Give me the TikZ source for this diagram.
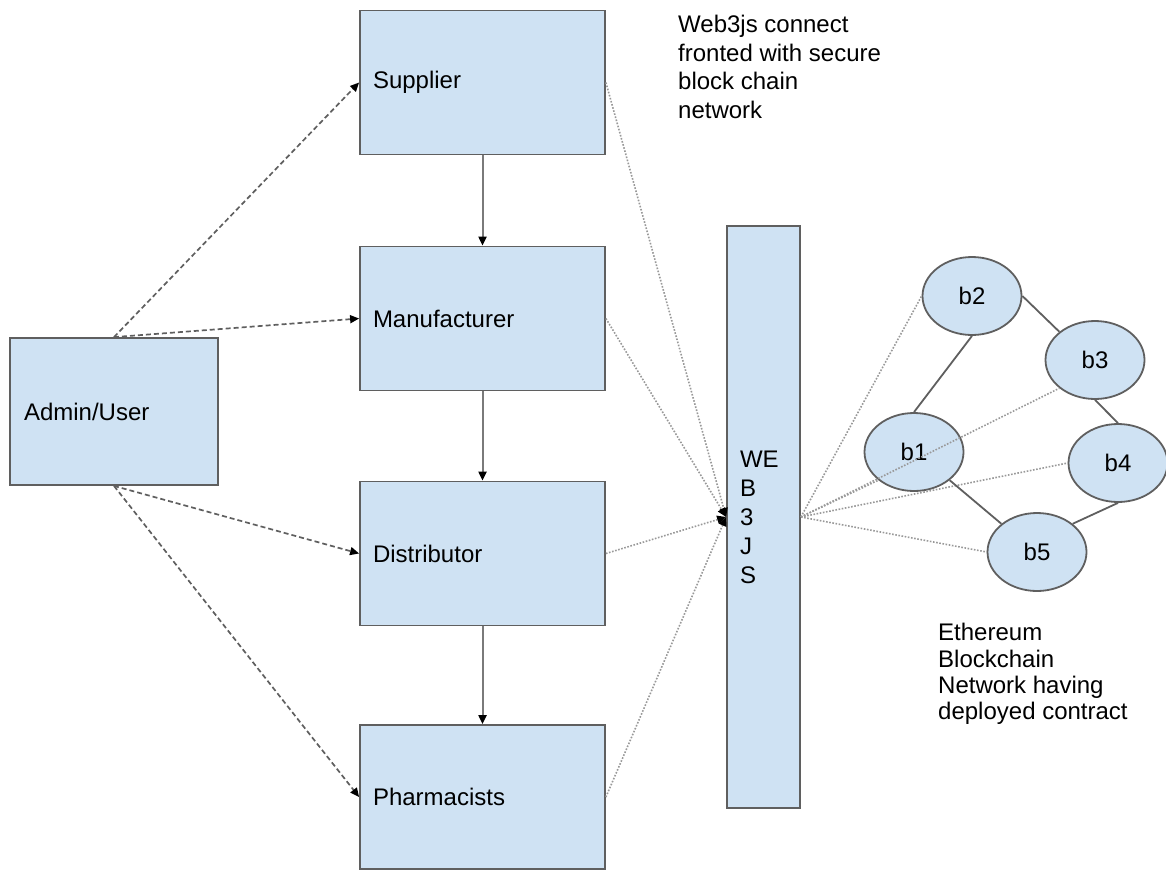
\documentclass[tikz,border=0pt]{standalone}
\usepackage{fontspec}
\setmainfont{Liberation Sans}
\usepackage{xcolor}
\usetikzlibrary{positioning,arrows.meta,shapes.geometric}

\definecolor{boxfill}{HTML}{CFE2F3}
\definecolor{boxline}{HTML}{5F5F5F}
\definecolor{flowgray}{HTML}{7A7A7A}
\definecolor{dotgray}{HTML}{999999}

\tikzset{
  stage/.style={draw=boxline, line width=1.8pt, fill=boxfill, minimum width=245pt,
    minimum height=144pt, text width=219pt, inner xsep=13pt, align=left,
    font=\fontsize{24}{29}\selectfont},
  peer/.style={ellipse, draw=boxline, line width=1.8pt, fill=boxfill, minimum width=99pt,
    minimum height=78pt, inner sep=0pt, font=\fontsize{24}{29}\selectfont},
  note/.style={inner sep=0pt, align=left, anchor=north west},
  tip/.style={-{Triangle[length=9pt,width=8pt,color=black]}},
  flow/.style={tip, draw=flowgray, line width=2pt},
  admlink/.style={tip, draw=boxline, line width=1.7pt, dash pattern=on 5pt off 3pt},
  weblink/.style={draw=dotgray, line width=1.6pt, dash pattern=on 1.6pt off 1.6pt},
  chainlink/.style={draw=boxline, line width=1.8pt}
}

\begin{document}
\begin{tikzpicture}[x=1pt,y=-1pt]
\useasboundingbox (0,0) rectangle (1166,870);

% Stages of the supply chain
\node[stage] (sup) at (482.5,82.5) {Supplier};
\node[stage] (man) at (482.5,318.5) {Manufacturer};
\node[stage] (dist) at (482.5,553.5) {Distributor};
\node[stage] (pharm) at (482.5,797) {Pharmacists};

% Admin
\node[stage, minimum width=208pt, minimum height=147pt, text width=180pt, inner xsep=14pt] (admin) at (114,411.5) {Admin/User};

% Web3js column
\node[stage, minimum width=73pt, minimum height=582pt, text width=47pt, inner xsep=13pt] (web) at (763.5,517) {WE\\B\\3\\J\\S};

% Blockchain peers
\node[peer] (b2) at (972,296) {b2};
\node[peer] (b3) at (1095,360) {b3};
\node[peer] (b1) at (914,452) {b1};
\node[peer] (b4) at (1118,463) {b4};
\node[peer] (b5) at (1037,552) {b5};

% Notes
\node[note, font=\fontsize{24}{28.7}\selectfont] (webnote) at (678,15) {Web3js connect\\fronted with secure\\block chain\\network};
\node[note, font=\fontsize{24}{26.4}\selectfont] (chainnote) at (938,623) {Ethereum\\Blockchain\\Network having\\deployed contract};

% Flow between stages
\draw[flow] (sup) -- (man);
\draw[flow] (man) -- (dist);
\draw[flow] (dist) -- (pharm);

% Admin to stages
\draw[admlink] (admin.north) -- (sup.west);
\draw[admlink] (admin.north) -- (man.west);
\draw[admlink] (admin.south) -- (dist.west);
\draw[admlink] (admin.south) -- (pharm.west);

% Stages to web3js
\draw[weblink, tip] (sup.east) -- (web.west);
\draw[weblink, tip] (man.east) -- (web.west);
\draw[weblink, tip] (dist.east) -- (web.west);
\draw[weblink, tip] (pharm.east) -- (web.west);

% Web3js to peers
\draw[weblink] (web.east) -- (b2.west);
\draw[weblink] (web.east) -- (b1.south west);
\draw[weblink] (web.east) -- (b3.south west);
\draw[weblink] (web.east) -- (b4.west);
\draw[weblink] (web.east) -- (b5.west);

% Peer links
\draw[chainlink] (b2.south) -- (b1.north);
\draw[chainlink] (b2.east) -- (b3.north west);
\draw[chainlink] (b3.south) -- (b4.north);
\draw[chainlink] (b4.south) -- (b5.north east);
\draw[chainlink] (b1.south east) -- (b5.north west);
\end{tikzpicture}
\end{document}
